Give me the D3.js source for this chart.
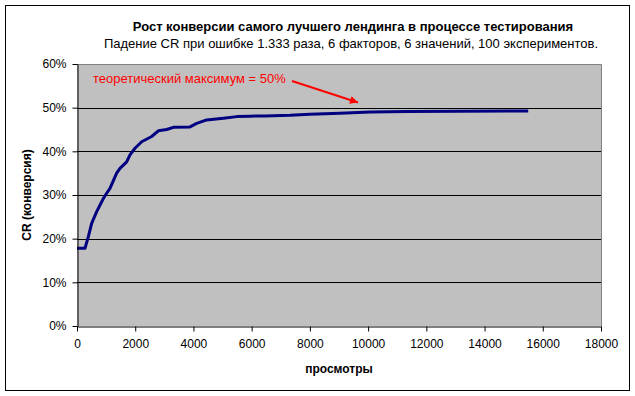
<!DOCTYPE html>
<html>
<head>
<meta charset="utf-8">
<script src="https://cdn.jsdelivr.net/npm/d3@7"></script>
<style>
  body { margin: 0; background: #fff; }
  svg text { font-family: "Liberation Sans", Arial, sans-serif; }
</style>
</head>
<body>
<svg id="chart" width="635" height="396"></svg>
<script>
// Chart data
const views = [0, 275, 390, 504, 676, 905, 1019, 1133, 1362, 1477, 1706, 1820, 1992, 2221, 2565,
  2794, 3080, 3309, 3882, 4112, 4455, 5028, 5486, 5945, 6458, 7317, 8003, 9034, 10064, 11360, 15500];
const conversion = [0.178, 0.178, 0.2045, 0.235, 0.262, 0.292, 0.304, 0.315, 0.350, 0.361, 0.376, 0.392, 0.407, 0.422, 0.434,
  0.447, 0.450, 0.455, 0.456, 0.464, 0.472, 0.476, 0.4795, 0.4805, 0.481, 0.4825, 0.485, 0.487, 0.490, 0.4915, 0.4925];
const xTicks = [0, 2000, 4000, 6000, 8000, 10000, 12000, 14000, 16000, 18000];
const yTicks = [0, 0.1, 0.2, 0.3, 0.4, 0.5, 0.6];

const title = 'Рост конверсии самого лучшего лендинга в процессе тестирования';
const subtitle = 'Падение CR при ошибке 1.333 раза, 6 факторов, 6 значений, 100 экспериментов.';
const note = 'теоретический максимум = 50%';

const svg = d3.select('#chart');
const margin = { left: 77, top: 64, right: 601, bottom: 326 };

// outer frame
svg.append('rect')
  .attr('x', 5.5).attr('y', 5.5)
  .attr('width', 624).attr('height', 385)
  .attr('fill', '#fff').attr('stroke', '#000').attr('stroke-width', 1);

const x = d3.scaleLinear().domain([0, 18000]).range([margin.left, margin.right]);
const y = d3.scaleLinear().domain([0, 0.6]).range([margin.bottom, margin.top]);

// plot background
svg.append('rect')
  .attr('x', x(0)).attr('y', y(0.6))
  .attr('width', x(18000) - x(0)).attr('height', y(0) - y(0.6))
  .attr('fill', '#c0c0c0');

// gridlines
svg.append('g')
  .selectAll('line')
  .data(yTicks.filter(d => d > 0 && d < 0.6))
  .enter().append('line')
  .attr('x1', x(0)).attr('x2', x(18000))
  .attr('y1', d => Math.round(y(d)) + 0.5).attr('y2', d => Math.round(y(d)) + 0.5)
  .attr('stroke', '#000');

// plot border (top and right in gray)
svg.append('path')
  .attr('d', `M${x(0)},${y(0.6) + 0.5}H${x(18000) + 0.5}V${y(0)}`)
  .attr('fill', 'none').attr('stroke', '#808080');

// curve
const line = d3.line()
  .x((d, i) => x(views[i]))
  .y(d => y(d));

svg.append('path')
  .datum(conversion)
  .attr('d', line)
  .attr('fill', 'none')
  .attr('stroke', '#000080')
  .attr('stroke-width', 3)
  .attr('stroke-linejoin', 'round');

// axes
const xAxis = svg.append('g')
  .attr('transform', `translate(0,${y(0) + 0.5})`)
  .call(d3.axisBottom(x).tickValues(xTicks).tickFormat(d3.format('d')).tickSize(5).tickSizeOuter(0).tickPadding(8));

const yAxis = svg.append('g')
  .attr('transform', `translate(${x(0) + 0.5},0)`)
  .call(d3.axisLeft(y).tickValues(yTicks).tickFormat(d3.format('.0%')).tickSize(5).tickSizeOuter(0).tickPadding(6));

[xAxis, yAxis].forEach(a => {
  a.select('.domain').attr('stroke', '#000');
  a.selectAll('.tick line').attr('stroke', '#000');
  a.selectAll('.tick text').attr('font-size', 12).attr('fill', '#000')
    .style('font-family', '"Liberation Sans", Arial, sans-serif');
});

// titles
svg.append('text')
  .attr('x', 353).attr('y', 31)
  .attr('text-anchor', 'middle')
  .attr('font-size', 13).attr('font-weight', 'bold')
  .text(title);

svg.append('text')
  .attr('x', 351).attr('y', 48)
  .attr('text-anchor', 'middle')
  .attr('font-size', 13)
  .text(subtitle);

svg.append('text')
  .attr('x', (x(0) + x(18000)) / 2).attr('y', 373)
  .attr('text-anchor', 'middle')
  .attr('font-size', 12).attr('font-weight', 'bold')
  .text('просмотры');

svg.append('text')
  .attr('transform', `translate(31,${(y(0) + y(0.6)) / 2}) rotate(-90)`)
  .attr('text-anchor', 'middle')
  .attr('font-size', 12).attr('font-weight', 'bold')
  .text('CR (конверсия)');

// annotation
svg.append('defs').append('marker')
  .attr('id', 'arrow')
  .attr('viewBox', '0 -5 10 10')
  .attr('refX', 10).attr('refY', 0)
  .attr('markerWidth', 5).attr('markerHeight', 4)
  .attr('markerUnits', 'strokeWidth')
  .attr('orient', 'auto')
  .append('path')
  .attr('d', 'M0,-5L10,0L0,5Z')
  .attr('fill', '#ff0000');

svg.append('text')
  .attr('x', 93).attr('y', 83)
  .attr('font-size', 13)
  .attr('fill', '#ff0000')
  .text(note);

svg.append('line')
  .attr('x1', 292).attr('y1', 81)
  .attr('x2', 358).attr('y2', 102.5)
  .attr('stroke', '#ff0000')
  .attr('stroke-width', 2)
  .attr('marker-end', 'url(#arrow)');
</script>
</body>
</html>
